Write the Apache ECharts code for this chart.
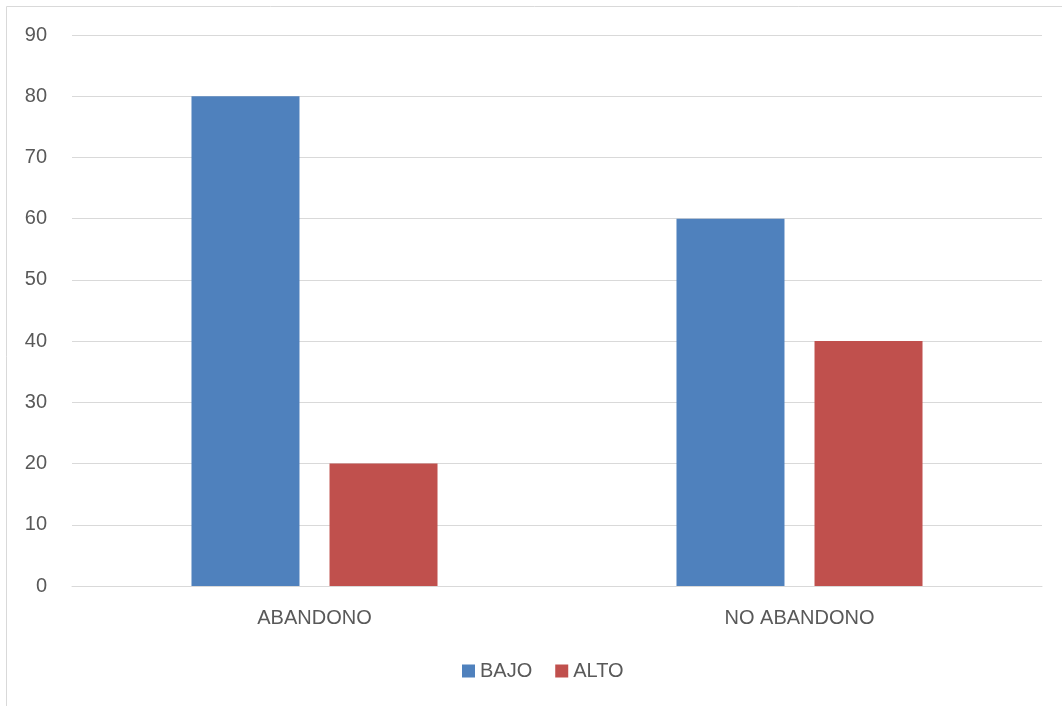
<!DOCTYPE html>
<html><head><meta charset="utf-8">
<script src="https://cdn.jsdelivr.net/npm/echarts@6/dist/echarts.min.js"></script>
<style>html,body{margin:0;padding:0;background:#fff}#c{width:1062px;height:706px}</style>
</head><body><div id="c"></div>
<script>
const categories = ['ABANDONO', 'NO ABANDONO'];
const seriesNames = ['BAJO', 'ALTO'];
const bajo = [80, 60];
const alto = [20, 40];
const colors = ['#4F81BD', '#C0504D'];
const font = 'Liberation Sans, Arial, sans-serif';
const chart = echarts.init(document.getElementById('c'));
chart.setOption({
  animation: false,
  graphic: [{type: 'rect', shape: {x: 6.5, y: 6.5, width: 1080, height: 740}, style: {fill: 'none', stroke: '#d9d9d9', lineWidth: 1}, silent: true}],
  grid: {left: 72, right: 20, top: 35, bottom: 120},
  legend: {top: 656, left: 457, itemWidth: 13, itemHeight: 13, itemGap: 23, icon: 'rect',
    textStyle: {color: '#595959', fontSize: 20, fontFamily: font}, data: seriesNames},
  xAxis: {type: 'category', data: categories,
    axisLine: {lineStyle: {color: '#d9d9d9'}}, axisTick: {show: false},
    axisLabel: {color: '#595959', fontSize: 20, fontFamily: font, margin: 22}},
  yAxis: {type: 'value', min: 0, max: 90, interval: 10,
    axisLine: {show: false}, axisTick: {show: false},
    splitLine: {lineStyle: {color: '#d9d9d9'}},
    axisLabel: {color: '#595959', fontSize: 20, fontFamily: font, margin: 25}},
  series: [
    {name: seriesNames[0], type: 'bar', data: bajo, barWidth: 108, barGap: '27.8%', itemStyle: {color: colors[0]}},
    {name: seriesNames[1], type: 'bar', data: alto, barWidth: 108, barGap: '27.8%', itemStyle: {color: colors[1]}}
  ]
});
</script></body></html>
